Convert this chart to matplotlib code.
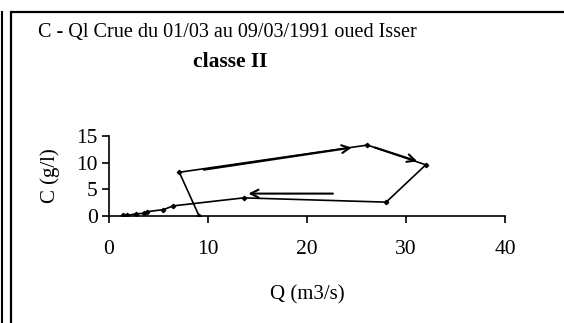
import matplotlib.pyplot as plt
from matplotlib.patches import Rectangle
from matplotlib.lines import Line2D

plt.rcParams['font.family'] = ['Liberation Serif', 'DejaVu Serif']

# debit Q (m3/s) et concentration C (g/l), dans l'ordre de la crue
q = [9.1, 7.1, 26.1, 32.0, 28.0, 13.6, 6.5, 5.5, 3.8, 3.5, 2.7, 1.85, 1.4]
c = [0.0, 8.2, 13.3, 9.6, 2.6, 3.4, 1.9, 1.2, 0.8, 0.5, 0.4, 0.1, 0.1]

# fleches (depart, arrivee)
fleches = [((9.3, 8.6), (24.8, 12.9)),
           ((26.6, 13.0), (31.4, 10.1)),
           ((22.9, 4.2), (13.8, 4.2))]

titre = "C - Ql Crue du 01/03 au 09/03/1991 oued Isser"
sous_titre = "classe II"

fig = plt.figure(figsize=(5.64, 3.23), dpi=100)
ax = fig.add_axes([109/564, 1 - 216/323, 396/564, 80/323])

ax.plot(q, c, color='black', lw=1.2, marker='D', markersize=2.2)

for (x0, y0), (x1, y1) in fleches:
    ax.annotate('', xy=(x1, y1), xytext=(x0, y0),
                arrowprops=dict(arrowstyle='->', color='black', lw=1.5,
                                mutation_scale=14))

ax.set_xlim(0, 40)
ax.set_ylim(0, 15)
ax.set_xticks([0, 10, 20, 30, 40])
ax.set_yticks([0, 5, 10, 15])
ax.spines['top'].set_visible(False)
ax.spines['right'].set_visible(False)
ax.spines['left'].set_linewidth(1.2)
ax.spines['bottom'].set_linewidth(1.2)
ax.tick_params(axis='x', direction='out', length=5, width=1.2, pad=12, labelsize=15.5)
ax.tick_params(axis='y', direction='out', length=5, width=1.2, pad=3, labelsize=15.5)
ax.set_xlabel("Q (m3/s)", fontsize=15, labelpad=19)
ax.set_ylabel("C (g/l)", fontsize=15, labelpad=12)

fig.text(38/564, 1 - 33/323, titre, fontsize=14.5, ha='left', va='center')
fig.text(230/564, 1 - 62/323, sous_titre, fontsize=15.5, fontweight='bold',
         ha='center', va='center')

# cadre
fig.patches.append(Rectangle((11/564, -0.01), 560/564, 1 - 12/323 + 0.01,
                             transform=fig.transFigure, fill=False,
                             edgecolor='black', lw=1.6))
fig.lines.append(Line2D([1.5/564, 1.5/564], [0, 1 - 12/323],
                        transform=fig.transFigure, color='black', lw=1.5))

fig.savefig("out.png", dpi=100)
